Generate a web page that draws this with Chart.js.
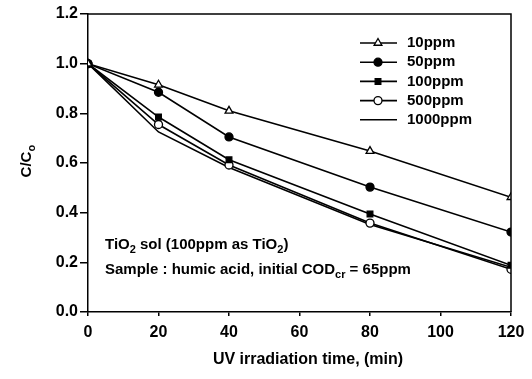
<!DOCTYPE html>
<html>
<head>
<meta charset="utf-8">
<script src="https://cdn.jsdelivr.net/npm/chart.js@4.4.1/dist/chart.umd.min.js"></script>
<style>
  html, body { margin: 0; padding: 0; background: #fff; }
  #wrap { width: 532px; height: 379px; }
</style>
</head>
<body>
<div id="wrap"><canvas id="chart"></canvas></div>
<script>
// Data
const times = [0, 20, 40, 80, 120];
const ppm10 = [1.0, 0.915, 0.81, 0.648, 0.462];
const ppm50 = [1.0, 0.885, 0.705, 0.503, 0.322];
const ppm100 = [1.0, 0.785, 0.613, 0.395, 0.188];
const ppm500 = [1.0, 0.755, 0.592, 0.358, 0.172];
const ppm1000 = [1.0, 0.725, 0.582, 0.352, 0.18];
const seriesNames = ['10ppm', '50ppm', '100ppm', '500ppm', '1000ppm'];
const xTicks = [0, 20, 40, 60, 80, 100, 120];
const yTicks = [0, 0.2, 0.4, 0.6, 0.8, 1.0, 1.2];

const FONT = "'Liberation Sans', Arial, sans-serif";

const toPoints = (vals) => vals.map((v, i) => ({ x: times[i], y: v }));

const makeSet = (label, vals, style, radius, fill) => ({
    label: label,
    data: toPoints(vals),
    borderColor: '#000',
    borderWidth: 1.6,
    pointStyle: style,
    pointRadius: radius,
    pointBorderWidth: 1.3,
    pointBorderColor: '#000',
    pointBackgroundColor: fill,
    tension: 0
});

// draw text pieces with subscripts
const drawRich = (ctx, parts, x, y, size) => {
    let cx = x;
    parts.forEach(([txt, kind]) => {
        const s = kind === 'sub' ? Math.round(size * 0.7) : size;
        ctx.font = `bold ${s}px ${FONT}`;
        ctx.fillText(txt, cx, kind === 'sub' ? y + size * 0.3 : y);
        cx += ctx.measureText(txt).width;
    });
};

const decorations = {
    id: 'decorations',
    afterDraw(chart) {
        const ctx = chart.ctx;
        const a = chart.chartArea;
        ctx.save();

        // frame top & right
        ctx.strokeStyle = '#000';
        ctx.lineWidth = 1.5;
        ctx.beginPath();
        ctx.moveTo(a.left, a.top);
        ctx.lineTo(a.right, a.top);
        ctx.lineTo(a.right, a.bottom);
        ctx.stroke();

        // legend
        ctx.fillStyle = '#000';
        ctx.textBaseline = 'middle';
        ctx.textAlign = 'left';
        chart.data.datasets.forEach((ds, i) => {
            const y = 43 + i * 19.2;
            ctx.strokeStyle = '#000';
            ctx.lineWidth = ds.borderWidth;
            ctx.beginPath();
            ctx.moveTo(360, y);
            ctx.lineTo(397, y);
            ctx.stroke();
            if (ds.pointRadius > 0) {
                ctx.fillStyle = ds.pointBackgroundColor;
                ctx.strokeStyle = ds.pointBorderColor;
                ctx.lineWidth = ds.pointBorderWidth;
                Chart.helpers.drawPoint(ctx, {
                    pointStyle: ds.pointStyle,
                    radius: ds.pointRadius,
                    rotation: 0,
                    borderWidth: ds.pointBorderWidth
                }, 378, y);
            }
            ctx.fillStyle = '#000';
            ctx.font = `bold 15px ${FONT}`;
            ctx.fillText(ds.label, 407, y);
        });

        // annotation
        drawRich(ctx, [['TiO', 'n'], ['2', 'sub'], [' sol (100ppm as TiO', 'n'], ['2', 'sub'], [')', 'n']], 105, 245, 15);
        drawRich(ctx, [['Sample : humic acid, initial COD', 'n'], ['cr', 'sub'], [' = 65ppm', 'n']], 105, 270, 15);

        // x title
        ctx.textAlign = 'center';
        ctx.font = `bold 16px ${FONT}`;
        ctx.fillText('UV irradiation time, (min)', 308, 360);

        // y title
        ctx.translate(27, 161);
        ctx.rotate(-Math.PI / 2);
        ctx.textAlign = 'left';
        ctx.font = `bold 15px ${FONT}`;
        const w = ctx.measureText('C/C').width + 7;
        drawRich(ctx, [['C/C', 'n'], ['o', 'sub']], -w / 2, 0, 15);

        ctx.restore();
    }
};

new Chart(document.getElementById('chart'), {
    type: 'line',
    data: {
        datasets: [
            makeSet(seriesNames[0], ppm10, 'triangle', 4.5, '#fff'),
            makeSet(seriesNames[1], ppm50, 'circle', 4, '#000'),
            makeSet(seriesNames[2], ppm100, 'rect', 4, '#000'),
            makeSet(seriesNames[3], ppm500, 'circle', 4, '#fff'),
            makeSet(seriesNames[4], ppm1000, 'circle', 0, '#000')
        ]
    },
    options: {
        responsive: true,
        maintainAspectRatio: false,
        animation: false,
        layout: { padding: { top: 14, right: 21, left: 0, bottom: 0 } },
        plugins: {
            legend: { display: false },
            tooltip: { enabled: false }
        },
        scales: {
            x: {
                type: 'linear',
                min: 0,
                max: 120,
                afterBuildTicks: (scale) => { scale.ticks = xTicks.map(v => ({ value: v })); },
                afterFit: (scale) => { scale.height = 67; },
                grid: { display: true, drawOnChartArea: false, drawTicks: true, tickLength: 4, color: '#000', lineWidth: 1.5 },
                border: { display: true, color: '#000', width: 1.5 },
                ticks: { color: '#000', padding: 7, maxRotation: 0, font: { family: FONT, size: 16, weight: 'bold' } }
            },
            y: {
                min: 0,
                max: 1.2,
                afterBuildTicks: (scale) => { scale.ticks = yTicks.map(v => ({ value: v })); },
                afterFit: (scale) => { scale.width = 88; },
                grid: { display: true, drawOnChartArea: false, drawTicks: true, tickLength: 8, color: '#000', lineWidth: 1.5 },
                border: { display: true, color: '#000', width: 1.5 },
                ticks: {
                    color: '#000',
                    padding: 2,
                    font: { family: FONT, size: 16, weight: 'bold' },
                    callback: (v) => Number(v).toFixed(1)
                }
            }
        }
    },
    plugins: [decorations]
});
</script>
</body>
</html>
